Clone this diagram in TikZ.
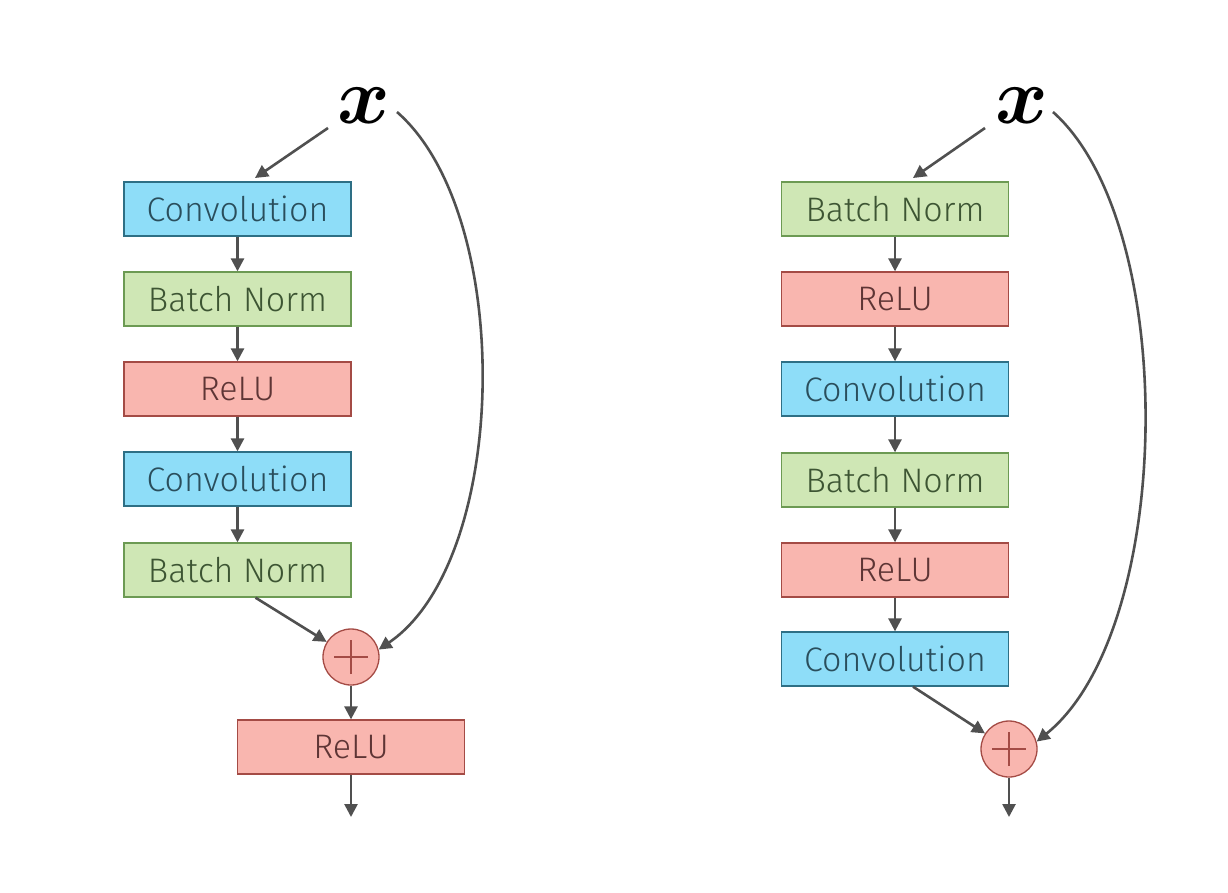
\documentclass[tikz,border=0pt]{standalone}
\usepackage{fontspec}
\setmainfont{Fira Sans Light}
\usepackage{bm}
\usepackage{graphicx}
\usetikzlibrary{arrows.meta}
\definecolor{convfill}{HTML}{8EDDF8}
\definecolor{convdraw}{HTML}{2E6F85}
\definecolor{convtext}{HTML}{2A4E5C}
\definecolor{bnfill}{HTML}{CFE7B5}
\definecolor{bndraw}{HTML}{6C9A53}
\definecolor{bntext}{HTML}{3D5533}
\definecolor{relufill}{HTML}{F9B6AF}
\definecolor{reludraw}{HTML}{A44B45}
\definecolor{relutext}{HTML}{5E3535}
\definecolor{arr}{HTML}{505050}
\tikzset{
  blk/.style={rectangle, minimum width=227pt, minimum height=54pt, line width=1.3pt, inner sep=0pt,
    font=\fontsize{34}{34}\selectfont},
  conv/.style={blk, fill=convfill, draw=convdraw, text=convtext},
  bn/.style={blk, fill=bnfill, draw=bndraw, text=bntext},
  relu/.style={blk, fill=relufill, draw=reludraw, text=relutext},
  plusnode/.style={circle, minimum size=56pt, inner sep=0pt, fill=relufill, draw=reludraw, line width=1.3pt,
    path picture={\draw[reludraw, line width=1.3pt] ([xshift=-17pt]path picture bounding box.center) -- ([xshift=17pt]path picture bounding box.center)
      ([yshift=-17pt]path picture bounding box.center) -- ([yshift=17pt]path picture bounding box.center);}},
  xnode/.style={inner sep=0pt},
  ar/.style={draw=arr, line width=2.6pt, -{Triangle[length=13pt, width=13pt]}},
}
\newcommand{\bigx}{\scalebox{8}{$\bm{x}$}}
\begin{document}
\begin{tikzpicture}[x=1pt, y=-1pt]
\useasboundingbox (0,0) rectangle (1228,892);
% left column
\node[xnode] (xl) at (364,106) {\bigx};
\node[conv] (l1) at (237.5,209) {Convolution};
\node[bn]   (l2) at (237.5,299) {Batch Norm};
\node[relu] (l3) at (237.5,389) {ReLU};
\node[conv] (l4) at (237.5,479) {Convolution};
\node[bn]   (l5) at (237.5,570) {Batch Norm};
\node[plusnode] (lp) at (351,657) {};
\node[relu] (l6) at (351,747) {ReLU};
\coordinate (lend) at (351,817);
\coordinate (lxs) at (328,128);
\coordinate (lxe) at (255,178);
\draw[ar] (lxs) -- (lxe);
\draw[ar] (l1) -- (l2);
\draw[ar] (l2) -- (l3);
\draw[ar] (l3) -- (l4);
\draw[ar] (l4) -- (l5);
\draw[ar] (l5.south) ++(18,0) coordinate (l5b) -- (lp);
\draw[ar] (lp) -- (l6);
\draw[ar] (l6) -- (lend);
\coordinate (lcs) at (397,112);
\draw[ar] (lcs) .. controls (515,215) and (510,560) .. (lp.15);
% right column
\node[xnode] (xr) at (1022,106) {\bigx};
\node[bn]   (r1) at (895,209) {Batch Norm};
\node[relu] (r2) at (895,299) {ReLU};
\node[conv] (r3) at (895,389) {Convolution};
\node[bn]   (r4) at (895,480) {Batch Norm};
\node[relu] (r5) at (895,570) {ReLU};
\node[conv] (r6) at (895,659) {Convolution};
\node[plusnode] (rp) at (1009,749) {};
\coordinate (rend) at (1009,817);
\coordinate (rxs) at (985,128);
\coordinate (rxe) at (913,178);
\draw[ar] (rxs) -- (rxe);
\draw[ar] (r1) -- (r2);
\draw[ar] (r2) -- (r3);
\draw[ar] (r3) -- (r4);
\draw[ar] (r4) -- (r5);
\draw[ar] (r5) -- (r6);
\draw[ar] (r6.south) ++(18,0) coordinate (r6b) -- (rp);
\draw[ar] (rp) -- (rend);
\coordinate (rcs) at (1053,112);
\draw[ar] (rcs) .. controls (1180,225) and (1175,630) .. (rp.15);
\end{tikzpicture}
\end{document}
